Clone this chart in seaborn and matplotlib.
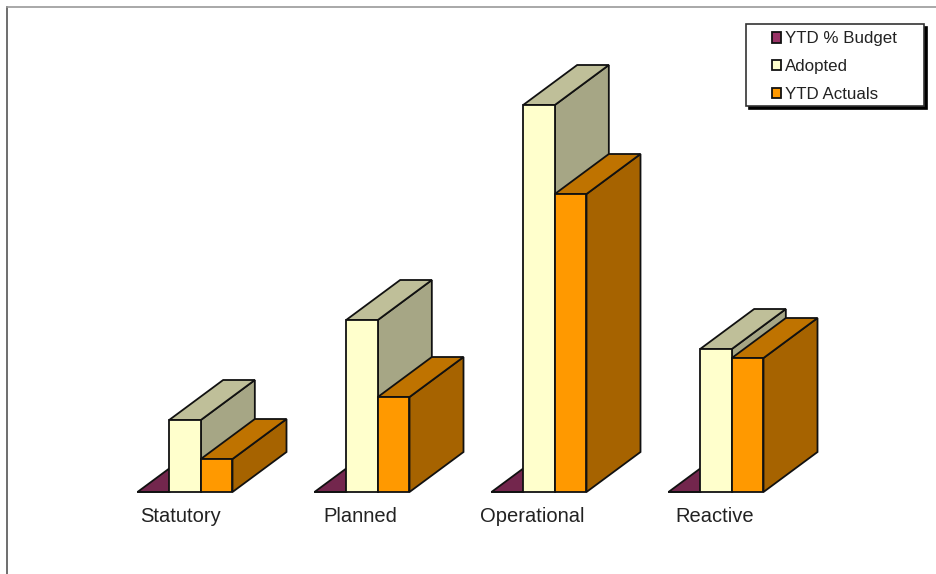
import pandas as pd
import matplotlib
matplotlib.use('Agg')
import matplotlib.pyplot as plt
from matplotlib.patches import Patch, Polygon, Rectangle
from matplotlib.colors import to_rgb
import seaborn as sns

categories = ['Statutory', 'Planned', 'Operational', 'Reactive']
series_names = ['YTD % Budget', 'Adopted', 'YTD Actuals']
ytd_budget = [0, 0, 0, 0]
adopted = [72, 172, 387, 143]
ytd_actuals = [33, 95, 298, 134]
colors = ['#993366', '#FFFFCC', '#FF9900']

df = pd.DataFrame({
    'category': categories * 3,
    'series': [s for s in series_names for _ in categories],
    'value': ytd_budget + adopted + ytd_actuals,
})

W, H = 937, 574
base_y = 492       # baseline, pixels from the top
first_x = 185      # centre of first group, pixels
step = 177         # pixels between groups
left, top = 7, 7   # frame corner
depth_x = 54 / step
depth_y = 40
edge = '#111111'
lw = 1.3


def shade(color, k):
    return tuple(c * k for c in to_rgb(color))


sns.set_theme(style='white')
plt.rcParams['font.family'] = ['Liberation Sans', 'DejaVu Sans']

fig = plt.figure(figsize=(W / 100, H / 100), dpi=100)
ax = fig.add_axes([left / W, 0, (W - left) / W, (H - top) / H])

sns.barplot(data=df, x='category', y='value', hue='series', order=categories,
            hue_order=series_names, palette=colors, saturation=1, width=95 / step,
            gap=0, edgecolor=edge, linewidth=lw, legend=False, ax=ax)

# fake 3d: top and side faces come from the geometry of the bars seaborn drew
for i, (container, color) in enumerate(zip(ax.containers, colors)):
    for bar in container:
        x0, w, h = bar.get_x(), bar.get_width(), bar.get_height()
        x1 = x0 + w
        bar.set_zorder(3 * i + 3)
        top_face = [(x0, h), (x1, h), (x1 + depth_x, h + depth_y), (x0 + depth_x, h + depth_y)]
        side_face = [(x1, 0), (x1, h), (x1 + depth_x, h + depth_y), (x1 + depth_x, depth_y)]
        ax.add_patch(Polygon(side_face, closed=True, facecolor=shade(color, 0.65),
                             edgecolor=edge, linewidth=lw, zorder=3 * i + 1))
        ax.add_patch(Polygon(top_face, closed=True, facecolor=shade(color, 0.75),
                             edgecolor=edge, linewidth=lw, zorder=3 * i + 2))

ax.set_xlim((left - first_x) / step, (W - first_x) / step)
ax.set_ylim(base_y - H, base_y - top)
ax.set_xlabel('')
ax.set_ylabel('')
ax.tick_params(left=False, bottom=False, labelleft=False, labelbottom=False)

# labels sit a little off the group centres in the original
label_px = [180.5, 360.5, 532, 715]
for pos, name in zip(label_px, categories):
    ax.text((pos - first_x) / step, -22, name, fontsize=14.5, color='#222222',
            ha='center', va='center_baseline')

for side in ['right', 'bottom']:
    ax.spines[side].set_visible(False)
ax.spines['left'].set_color('#555555')
ax.spines['left'].set_linewidth(1.2)
ax.spines['top'].set_color('#999999')
ax.spines['top'].set_linewidth(1.2)

# legend box with hard shadow
box_x0, box_x1, box_y0, box_y1 = 746, 924, 24, 106
for off, face in [(3, '#000000'), (0, 'white')]:
    ax.add_patch(Rectangle(((box_x0 + off - first_x) / step, base_y - box_y1 - off),
                           (box_x1 - box_x0) / step, box_y1 - box_y0,
                           facecolor=face, edgecolor='#333333' if off == 0 else '#000000',
                           linewidth=1.2, zorder=20 + (off == 0)))

handles = [Patch(facecolor=c, edgecolor=edge, linewidth=1.3, label=n)
           for c, n in zip(colors, series_names)]
leg = fig.legend(handles=handles, loc='upper left', frameon=False, fontsize=12.2,
                 bbox_to_anchor=(772 / W, 1 - 31.5 / H), borderpad=0, borderaxespad=0,
                 handlelength=0.55, handleheight=0.55, handletextpad=0.2, labelspacing=0.76,
                 labelcolor='#222222')
leg.set_zorder(30)

fig.savefig('out.png', dpi=100, facecolor='white')
